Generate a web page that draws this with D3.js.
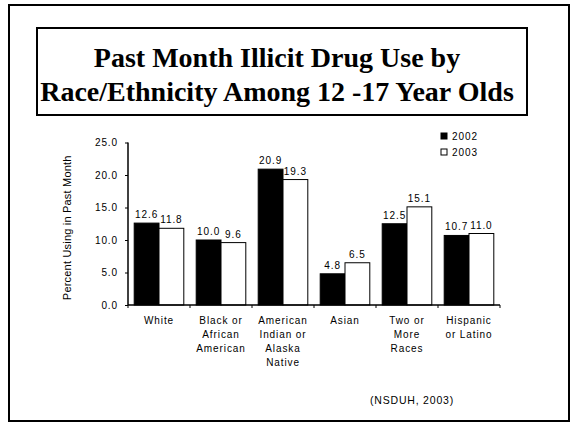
<!DOCTYPE html>
<html>
<head>
<meta charset="utf-8">
<script src="https://cdn.jsdelivr.net/npm/d3@7"></script>
<style>
  html, body { margin: 0; padding: 0; background: #fff; }
  svg { display: block; }
</style>
</head>
<body>
<svg id="chart" width="572" height="426"></svg>
<script>
// Past-month illicit drug use among 12-17 year olds, by race/ethnicity
const categories = [
  ["White"],
  ["Black or", "African", "American"],
  ["American", "Indian or", "Alaska", "Native"],
  ["Asian"],
  ["Two or", "More", "Races"],
  ["Hispanic", "or Latino"]
];
const years = ["2002", "2003"];
const values2002 = [12.6, 10.0, 20.9, 4.8, 12.5, 10.7];
const values2003 = [11.8, 9.6, 19.3, 6.5, 15.1, 11.0];
const yTicks = [0, 5, 10, 15, 20, 25];
const titleLines = ["Past Month Illicit Drug Use by", "Race/Ethnicity Among 12 -17 Year Olds"];
const yTitle = "Percent Using in Past Month";
const sourceNote = "(NSDUH, 2003)";

const svg = d3.select("#chart");
const sans = "Arial, 'Liberation Sans', sans-serif";
const smallFont = 10;
const spacing = 0.9;

// outer frame
svg.append("rect")
  .attr("x", 9).attr("y", 5).attr("width", 560).attr("height", 416)
  .attr("fill", "none").attr("stroke", "#000").attr("stroke-width", 2);

// title box
svg.append("rect")
  .attr("x", 37).attr("y", 28).attr("width", 490).attr("height", 87)
  .attr("fill", "none").attr("stroke", "#000").attr("stroke-width", 2);

svg.append("g").selectAll("text")
  .data(titleLines)
  .join("text")
  .attr("x", 277)
  .attr("y", (d, i) => 67 + i * 34)
  .attr("text-anchor", "middle")
  .attr("font-family", "'Liberation Serif', 'Times New Roman', serif")
  .attr("font-weight", "bold")
  .attr("font-size", 28)
  .text(d => d);

// plot geometry
const x0 = 128, x1 = 500, yTop = 142.5, yBot = 305;

const x = d3.scaleBand()
  .domain(d3.range(categories.length))
  .range([x0, x1])
  .paddingInner(0.2)
  .paddingOuter(0.1);

const xSub = d3.scaleBand()
  .domain(years)
  .range([0, x.bandwidth()]);

const y = d3.scaleLinear().domain([0, 25]).range([yBot, yTop]);

const rows = categories.map((c, i) => ({
  i,
  bars: [
    { year: "2002", value: values2002[i] },
    { year: "2003", value: values2003[i] }
  ]
}));

const fillFor = { "2002": "#000", "2003": "#fff" };

// bars
const groups = svg.append("g").selectAll("g")
  .data(rows)
  .join("g")
  .attr("transform", d => `translate(${x(d.i)},0)`);

groups.selectAll("rect")
  .data(d => d.bars)
  .join("rect")
  .attr("x", d => xSub(d.year))
  .attr("y", d => y(d.value))
  .attr("width", xSub.bandwidth())
  .attr("height", d => yBot - y(d.value))
  .attr("fill", d => fillFor[d.year])
  .attr("stroke", "#000")
  .attr("stroke-width", 1);

// value labels
groups.selectAll("text")
  .data(d => d.bars)
  .join("text")
  .attr("x", d => xSub(d.year) + xSub.bandwidth() / 2)
  .attr("y", d => y(d.value) - 5)
  .attr("text-anchor", "middle")
  .attr("font-family", sans)
  .attr("font-size", smallFont)
  .attr("letter-spacing", spacing)
  .text(d => d.value.toFixed(1));

// y axis
const yAxis = d3.axisLeft(y)
  .tickValues(yTicks)
  .tickFormat(d3.format(".1f"))
  .tickSize(3)
  .tickPadding(7);

const gy = svg.append("g")
  .attr("transform", `translate(${x0},0)`)
  .call(yAxis);
gy.select(".domain").attr("stroke", "#000").attr("stroke-width", 1.5)
  .attr("d", `M0,${yTop}V${yBot}`);
gy.selectAll("text")
  .attr("font-family", sans)
  .attr("font-size", smallFont)
  .attr("letter-spacing", spacing)
  .attr("fill", "#000");

// x axis line with ticks at category boundaries
svg.append("line")
  .attr("x1", x0).attr("x2", x1).attr("y1", yBot).attr("y2", yBot)
  .attr("stroke", "#000").attr("stroke-width", 1.5);

svg.append("g").selectAll("line")
  .data(d3.range(categories.length + 1))
  .join("line")
  .attr("x1", i => x0 + (x1 - x0) * i / categories.length)
  .attr("x2", i => x0 + (x1 - x0) * i / categories.length)
  .attr("y1", yBot).attr("y2", yBot + 3)
  .attr("stroke", "#000");

// category labels
const catLabels = svg.append("g").selectAll("text")
  .data(rows)
  .join("text")
  .attr("x", d => x(d.i) + x.bandwidth() / 2)
  .attr("y", 324)
  .attr("text-anchor", "middle")
  .attr("font-family", sans)
  .attr("font-size", smallFont)
  .attr("letter-spacing", spacing);

catLabels.selectAll("tspan")
  .data(d => categories[d.i])
  .join("tspan")
  .attr("x", function () { return d3.select(this.parentNode).attr("x"); })
  .attr("dy", (d, i) => i === 0 ? 0 : 14)
  .text(d => d);

// y axis title
svg.append("text")
  .attr("transform", `translate(71,${(yTop + yBot) / 2 + 4}) rotate(-90)`)
  .attr("text-anchor", "middle")
  .attr("font-family", sans)
  .attr("font-size", 11)
  .attr("letter-spacing", 0.2)
  .text(yTitle);

// legend
const legend = svg.append("g").selectAll("g")
  .data(years)
  .join("g")
  .attr("transform", (d, i) => `translate(441,${137 + i * 16})`);

legend.append("rect")
  .attr("x", 0).attr("y", -4).attr("width", 6).attr("height", 6)
  .attr("fill", d => fillFor[d]).attr("stroke", "#000").attr("stroke-width", 1);

legend.append("text")
  .attr("x", 11).attr("y", 3)
  .attr("font-family", sans)
  .attr("font-size", smallFont)
  .attr("letter-spacing", spacing)
  .text(d => d);

// source note
svg.append("text")
  .attr("x", 412).attr("y", 404)
  .attr("text-anchor", "middle")
  .attr("font-family", sans)
  .attr("font-size", 10.5)
  .attr("letter-spacing", 0.8)
  .text(sourceNote);
</script>
</body>
</html>
